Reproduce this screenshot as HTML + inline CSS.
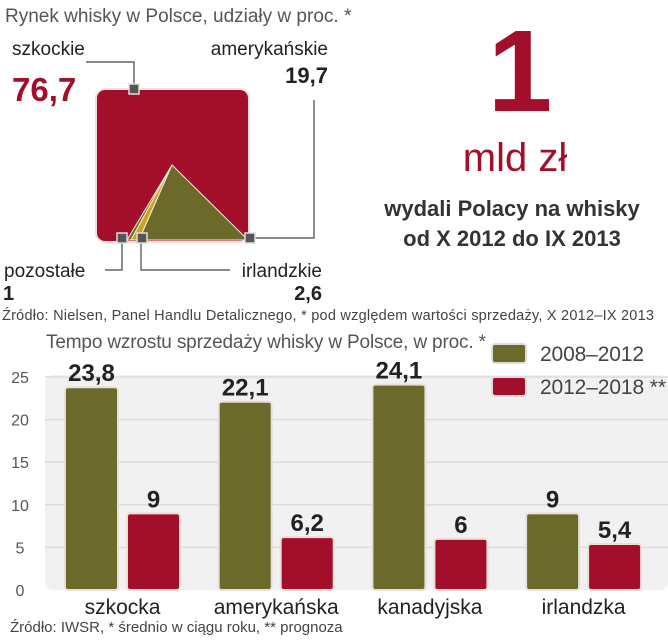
<!DOCTYPE html>
<html><head><meta charset="utf-8"><style>
body{margin:0;background:#fff;width:668px;height:640px;overflow:hidden}
svg{display:block}
text{font-family:"Liberation Sans Narrow","Liberation Sans",sans-serif}
</style></head><body>
<svg width="668" height="640" viewBox="0 0 668 640">
<g>
<text x="5" y="22" font-size="19" fill="#555">Rynek whisky w Polsce, udziały w proc. *</text>
<rect x="96" y="89" width="153" height="153" rx="9" fill="#a30f2a" stroke="#f0e0e0" stroke-width="2"/>
<polygon points="127,240 172,165 131,240" fill="#6b6a2a" stroke="#f5f0d0" stroke-width="1"/>
<polygon points="131,240 172,165 139,240" fill="#c8a520" stroke="#f5f0d0" stroke-width="1"/>
<polygon points="139,240 172,165 248,240" fill="#6b6a2a" stroke="#f5f0d0" stroke-width="1"/>
<g fill="none" stroke="#444" stroke-width="1.2">
<polyline points="86,62 134,62 134,86"/>
<polyline points="253,238 314,238 314,100"/>
<polyline points="122,240 122,270 105,270"/>
<polyline points="141,240 141,270 230,270"/>
</g>
<g fill="#555" stroke="#ddd" stroke-width="1.5">
<rect x="129" y="84" width="10" height="10"/>
<rect x="117" y="233" width="10" height="10"/>
<rect x="137" y="233" width="10" height="10"/>
<rect x="245" y="233" width="10" height="10"/>
</g>
<text x="12" y="55" font-size="19" fill="#222">szkockie</text>
<text x="12" y="101" font-size="33" font-weight="bold" fill="#a30f2a">76,7</text>
<text x="328" y="55" font-size="19" fill="#222" text-anchor="end">amerykańskie</text>
<text x="328" y="83" font-size="22" font-weight="bold" fill="#222" text-anchor="end">19,7</text>
<text x="4" y="277" font-size="19" fill="#222">pozostałe</text>
<text x="3" y="300" font-size="20" font-weight="bold" fill="#222">1</text>
<text x="322" y="277" font-size="19" fill="#222" text-anchor="end">irlandzkie</text>
<text x="322" y="300" font-size="20" font-weight="bold" fill="#222" text-anchor="end">2,6</text>
<text x="2" y="320" font-size="14.5" fill="#444" textLength="652">Źródło: Nielsen, Panel Handlu Detalicznego, * pod względem wartości sprzedaży, X 2012–IX 2013</text>
</g>
<g>
<text x="520" y="111" font-size="116" font-weight="bold" fill="#a30f2a" text-anchor="middle" font-family="Liberation Sans">1</text>
<text x="515" y="171" font-size="40" fill="#a30f2a" text-anchor="middle">mld zł</text>
<text x="512" y="216" font-size="22" font-weight="bold" fill="#333" text-anchor="middle" font-family="Liberation Sans">wydali Polacy na whisky</text>
<text x="512" y="246" font-size="22" font-weight="bold" fill="#333" text-anchor="middle" font-family="Liberation Sans">od X 2012  do IX 2013</text>
</g>
<g id="bars">
<text x="46" y="348" font-size="19" fill="#555" textLength="440">Tempo wzrostu sprzedaży whisky w Polsce, w proc. *</text>
<rect x="45" y="375" width="623" height="215" rx="8" fill="#f1f1f1"/>
</g>
<g>
<rect x="492" y="344" width="34" height="19" rx="3" fill="#6b6a2a" stroke="#ddd" stroke-width="2"/>
<text x="540" y="361" font-size="21" fill="#444" textLength="104">2008–2012</text>
<rect x="492" y="377" width="34" height="19" rx="3" fill="#a30f2a" stroke="#ddd" stroke-width="2"/>
<text x="540" y="394" font-size="21" fill="#444" textLength="126">2012–2018 **</text>
</g>
<text x="10" y="632" font-size="15" fill="#444">Źródło: IWSR, * średnio w ciągu roku, ** prognoza</text>
</svg>
<script>
const categories=["szkocka","amerykańska","kanadyjska","irlandzka"];
const series2008=[23.8,22.1,24.1,9];
const series2012=[9,6.2,6,5.4];
const labels2008=["23,8","22,1","24,1","9"];
const labels2012=["9","6,2","6","5,4"];
const yTicks=[0,5,10,15,20,25];
const NS="http://www.w3.org/2000/svg";
const g=document.getElementById('bars');
const y0=590,yTop=377,yMax=25;
const yS=v=>y0-(y0-yTop)*v/yMax;
const xS=i=>65+i*153.7;
const bw=53,gap=9;
function mk(t,a){const e=document.createElementNS(NS,t);for(const k in a)e.setAttribute(k,a[k]);g.appendChild(e);return e;}
yTicks.forEach(t=>{
 if(t>0){const l=mk('line',{x1:45,x2:668,y1:yS(t),y2:yS(t),stroke:'#dcdcdc','stroke-width':1.5});
 
 }
 const tx=mk('text',{x:20,y:yS(t)+6,'font-size':16,fill:'#555','text-anchor':'middle'});tx.textContent=t;
 
 
});
categories.forEach((c,i)=>{
 [[series2008,labels2008,'#6b6a2a',0],[series2012,labels2012,'#a30f2a',1]].forEach(([s,lb,col,k])=>{
  const x=xS(i)+k*(bw+gap);
  const r=mk('rect',{x:x,y:yS(s[i]),width:bw,height:y0-yS(s[i]),rx:3,fill:col,stroke:'#e8e0d8','stroke-width':2});
  
  
  const t=mk('text',{x:x+bw/2,y:yS(s[i])-6,'font-size':24,'font-weight':'bold',fill:'#222','text-anchor':'middle'});t.textContent=lb[i];
  
  
 });
 const ct=mk('text',{x:xS(i)+bw+gap/2,y:614,'font-size':21,fill:'#222','text-anchor':'middle'});ct.textContent=c;
 
 
});
</script>
</body></html>
